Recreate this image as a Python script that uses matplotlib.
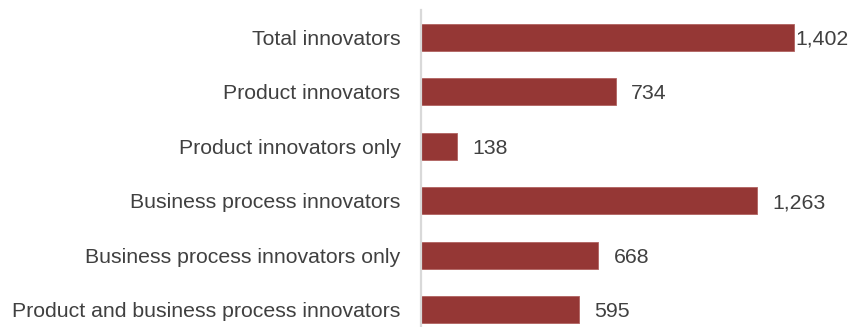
import matplotlib.pyplot as plt

categories = ['Total innovators', 'Product innovators', 'Product innovators only',
              'Business process innovators', 'Business process innovators only',
              'Product and business process innovators']
values = [1402, 734, 138, 1263, 668, 595]

plt.rcParams['font.family'] = ['Liberation Sans', 'DejaVu Sans']

fig = plt.figure(figsize=(8.48, 3.27), dpi=100)
# axes runs off the bottom of the figure, like the cropped original
ax = fig.add_axes([420.5 / 848, -10 / 327, 427.5 / 848, 327 / 327])

y = list(range(len(categories)))
ax.barh(y, values, height=0.49, color='#953735', edgecolor='#b06260', linewidth=0.6)
ax.set_ylim(len(categories) - 0.5, -0.5)
ax.set_xlim(0, 1605)

for yi, v in zip(y, values):
    pad = 1 if v == max(values) else 15
    ax.annotate(f'{v:,}', (v, yi), xytext=(pad * 0.72, 0), textcoords='offset points',
                va='center_baseline', ha='left', fontsize=15.3, color='#404040')

ax.set_yticks(y)
ax.set_yticklabels(categories, fontsize=15.3, color='#404040')
ax.tick_params(axis='y', length=0, pad=14.4)
ax.set_xticks([])
for s in ['top', 'right', 'bottom']:
    ax.spines[s].set_visible(False)
ax.spines['left'].set_color('#d9d9d9')
ax.spines['left'].set_linewidth(1.6)

fig.savefig('out.png', dpi=100)
